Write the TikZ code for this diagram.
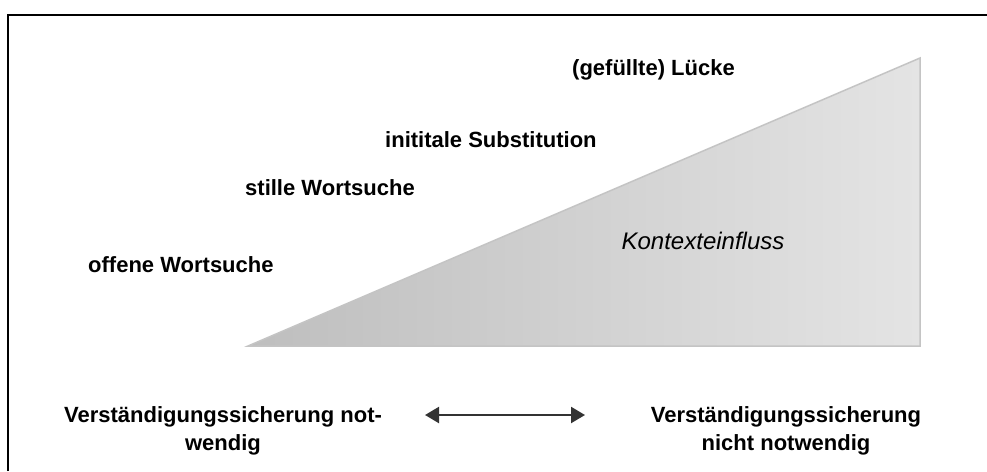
\documentclass[tikz,border=0pt]{standalone}
\usepackage{fontspec}
\setmainfont{Liberation Sans}
\usetikzlibrary{arrows.meta}
\begin{document}
\begin{tikzpicture}[x=1pt,y=-1pt,
  label/.style={font=\fontsize{22}{26}\selectfont\bfseries, inner sep=0pt, anchor=west},
  twoline/.style={font=\fontsize{22}{28}\selectfont\bfseries, inner sep=0pt, align=center},
  both/.style={draw={rgb,255:red,51;green,51;blue,51}, line width=2.2pt,
    {Triangle[length=14pt,width=16pt]}-{Triangle[length=14pt,width=16pt]}}]
\definecolor{wedgedark}{RGB}{190,190,190}
\definecolor{wedgelight}{RGB}{228,228,228}
\definecolor{wedgeedge}{RGB}{196,196,196}
\useasboundingbox (0,0) rectangle (987,471);
% frame (open to the right and bottom)
\draw[line width=2.2pt] (8,471) -- (8,15) -- (987,15);
% context wedge
\coordinate (tip) at (248,346);
\coordinate (corner) at (920,346);
\coordinate (apex) at (920,58);
\shade[shading angle=70, left color=wedgedark, right color=wedgelight]
  (tip) -- (corner) -- (apex) -- cycle;
\draw[wedgeedge, line width=1.5pt, line join=miter] (tip) -- (corner) -- (apex) -- cycle;
\node[font=\fontsize{24}{28}\selectfont\itshape, inner sep=0pt] (ctx) at (703,241) {Kontexteinfluss};
% strategies
\node[label] (gap) at (572,70) {(gefüllte) Lücke};
\node[label] (subst) at (385,140) {inititale Substitution};
\node[label] (silent) at (245,188) {stille Wortsuche};
\node[label] (open) at (88,265) {offene Wortsuche};
% scale of need for securing understanding
\node[twoline] (need) at (223,431) {Verständigungssicherung not-\\wendig};
\node[twoline] (noneed) at (786,431) {Verständigungssicherung\\nicht notwendig};
\coordinate (arrL) at (425,415);
\coordinate (arrR) at (585,415);
\draw[both] (arrL) -- (arrR);
\end{tikzpicture}
\end{document}
